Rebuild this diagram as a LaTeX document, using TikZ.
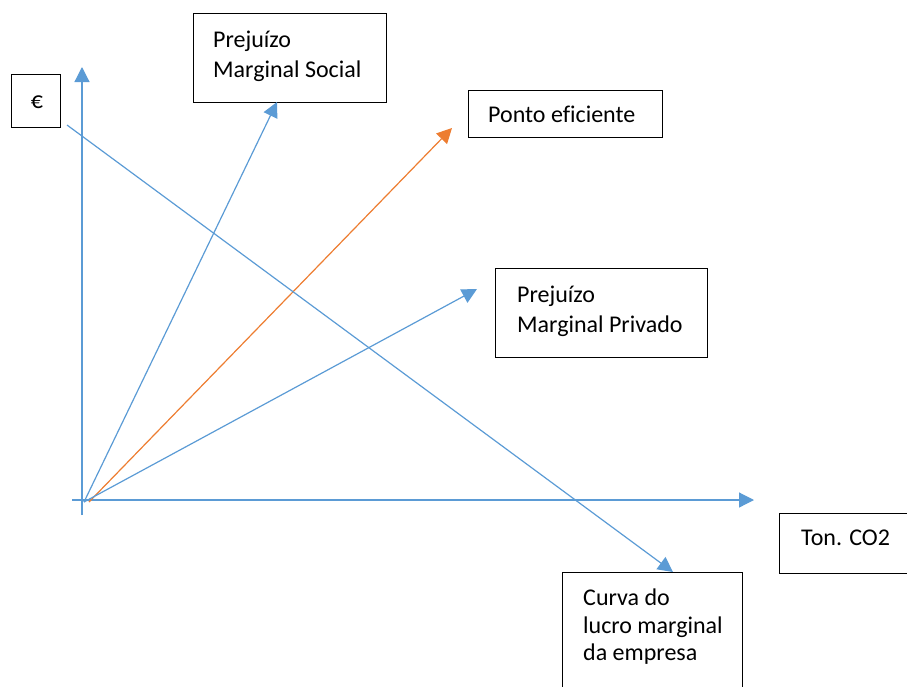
\documentclass[tikz,border=0pt]{standalone}
\usepackage{fontspec}
\setmainfont[Ligatures=NoCommon]{Carlito}
\usetikzlibrary{arrows.meta}
\definecolor{axblue}{HTML}{5B9BD5}
\definecolor{axorange}{HTML}{ED7D31}
\begin{document}
\begin{tikzpicture}[x=1pt,y=-1pt,
  boxnode/.style={draw=black,line width=1pt,rectangle,inner sep=0pt,anchor=north west},
  lbl/.style={inner sep=0pt,anchor=base west,font=\fontsize{24}{29}\selectfont},
  bline/.style={draw=axblue,line width=1.2pt,-{Triangle[length=15pt,width=15pt]}},
  oline/.style={draw=axorange,line width=1.2pt,-{Triangle[length=15pt,width=15pt]}}]
\useasboundingbox (0,0) rectangle (907,686);
% boxes
\node[boxnode,minimum width=49pt,minimum height=53pt] (eurobox) at (11,74) {};
\node[lbl,anchor=base] (euro) at (37,108) {€};
\node[boxnode,minimum width=193pt,minimum height=89pt] (msbox) at (193,13) {};
\node[lbl] (ms1) at (213,47) {Prejuízo};
\node[lbl] (ms2) at (213,77) {Marginal Social};
\node[boxnode,minimum width=194pt,minimum height=47pt] (pebox) at (468,90) {};
\node[lbl] (pe1) at (488,122) {Ponto eficiente};
\node[boxnode,minimum width=212pt,minimum height=89pt] (mpbox) at (495,268) {};
\node[lbl] (mp1) at (517,302) {Prejuízo};
\node[lbl] (mp2) at (517,332) {Marginal Privado};
\node[boxnode,minimum width=140pt,minimum height=60pt] (tonbox) at (779,513) {};
\node[lbl] (ton) at (801,545) {Ton. CO2};
\node[boxnode,minimum width=180pt,minimum height=120pt] (cvbox) at (562,572) {};
\node[lbl] (cv1) at (583,605) {Curva do};
\node[lbl] (cv2) at (583,633) {lucro marginal};
\node[lbl] (cv3) at (583,660) {da empresa};
% axes
\coordinate (ybot) at (82,515);
\coordinate (ytop) at (82,67);
\coordinate (xleft) at (72,500);
\coordinate (xright) at (754,500);
\draw[bline] (ybot) -- (ytop);
\draw[bline] (xleft) -- (xright);
% curves
\coordinate (o) at (84,502);
\coordinate (oo) at (89,502);
\coordinate (mstip) at (277,102);
\coordinate (petip) at (452,128);
\coordinate (mptip) at (477,289);
\coordinate (cvstart) at (67,125);
\coordinate (cvtip) at (673,572);
\draw[bline] (o) -- (mstip);
\draw[oline] (oo) -- (petip);
\draw[bline] (o) -- (mptip);
\draw[bline] (cvstart) -- (cvtip);
\end{tikzpicture}
\end{document}
